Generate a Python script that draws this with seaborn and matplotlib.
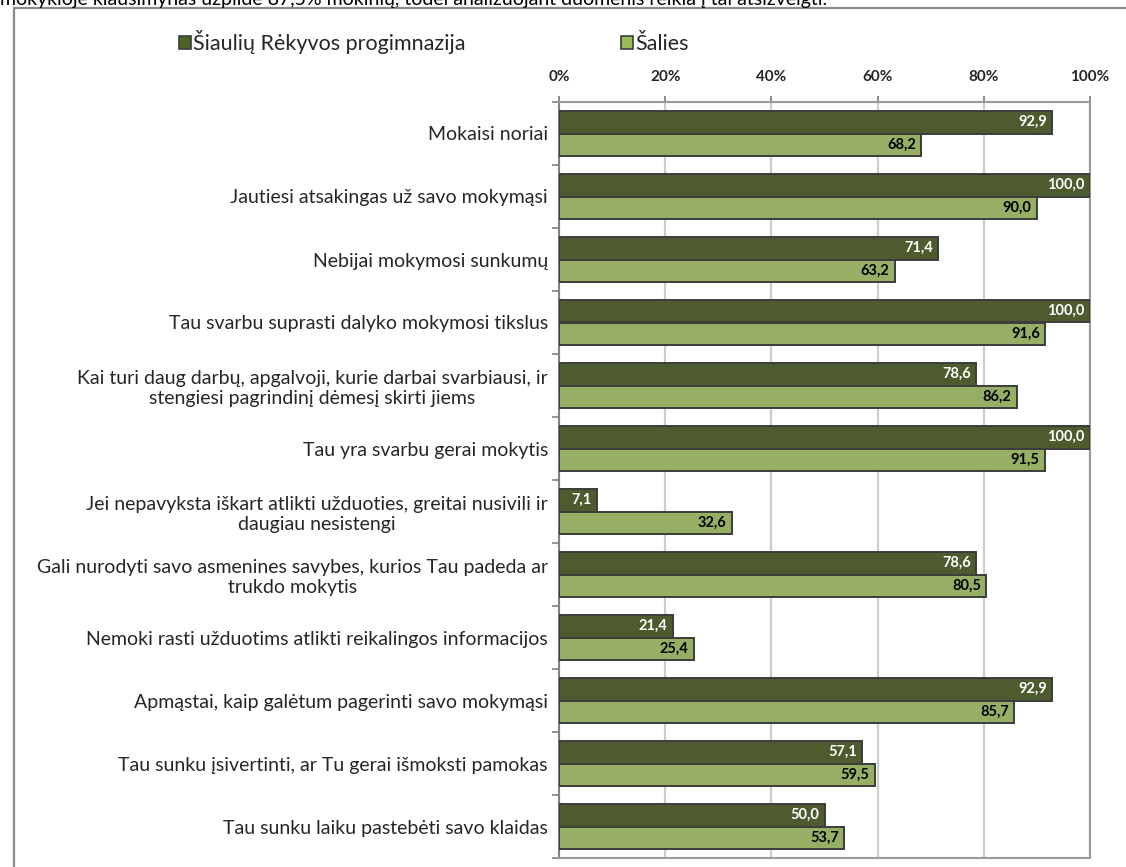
import numpy as np
import pandas as pd
import seaborn as sns
import matplotlib.pyplot as plt
import matplotlib.ticker as ticker
from matplotlib.patches import Rectangle

DARK_GREEN = "#4F6228"
LIGHT_GREEN = "#9BBB59"
EDGE = "#3C3C3C"

questions = [
    "Mokaisi noriai",
    "Jautiesi atsakingas už savo mokymąsi",
    "Nebijai mokymosi sunkumų",
    "Tau svarbu suprasti dalyko mokymosi tikslus",
    "Kai turi daug darbų, apgalvoji, kurie darbai svarbiausi, ir\nstengiesi pagrindinį dėmesį skirti jiems",
    "Tau yra svarbu gerai mokytis",
    "Jei nepavyksta iškart atlikti užduoties, greitai nusivili ir\ndaugiau nesistengi",
    "Gali nurodyti savo asmenines savybes, kurios Tau padeda ar\ntrukdo mokytis",
    "Nemoki rasti užduotims atlikti reikalingos informacijos",
    "Apmąstai, kaip galėtum pagerinti savo mokymąsi",
    "Tau sunku įsivertinti, ar Tu gerai išmoksti pamokas",
    "Tau sunku laiku pastebėti savo klaidas",
]
school_name = "Šiaulių Rėkyvos progimnazija"
country_name = "Šalies"
school_vals = [92.9, 100.0, 71.4, 100.0, 78.6, 100.0, 7.1, 78.6, 21.4, 92.9, 57.1, 50.0]
country_vals = [68.2, 90.0, 63.2, 91.6, 86.2, 91.5, 32.6, 80.5, 25.4, 85.7, 59.5, 53.7]
x_ticks = [0, 20, 40, 60, 80, 100]

top_note = "mokykloje klausimynas užpildė 87,5% mokinių, todėl analizuojant duomenis reikia į tai atsižvelgti."

df = pd.DataFrame({
    "question": questions * 2,
    "group": [school_name] * len(questions) + [country_name] * len(questions),
    "value": school_vals + country_vals,
})

sns.set_theme(style="white")
plt.rcParams['font.family'] = ['Lato', 'DejaVu Sans']

fig = plt.figure(figsize=(11.26, 8.67), dpi=100)
ax = fig.add_axes([559 / 1126, 1 - 858 / 867, 531 / 1126, 756 / 867])

sns.barplot(data=df, x="value", y="question", hue="group", orient="h",
            palette=[DARK_GREEN, LIGHT_GREEN], width=0.72,
            edgecolor=EDGE, linewidth=1.4, ax=ax, legend=False, zorder=3)

ax.set_xlim(0, 100)
ax.set_ylim(len(questions) - 0.5, -0.5)
ax.xaxis.set_major_locator(ticker.FixedLocator(x_ticks))
ax.xaxis.set_major_formatter(ticker.FuncFormatter(lambda v, p: "{:.0f}%".format(v)))
ax.xaxis.tick_top()
ax.tick_params(axis='x', which='major', length=4, color="#808080", labelsize=11,
               pad=9, top=True, bottom=False)
for lab in ax.get_xticklabels():
    lab.set_fontweight('bold')
ax.grid(axis='x', color="#CCCCCC", lw=1.6, zorder=0)
ax.set_axisbelow(True)

ax.set_xlabel("")
ax.set_ylabel("")
ax.tick_params(axis='y', which='major', length=0, labelsize=14, pad=8)
for lab in ax.get_yticklabels():
    lab.set_multialignment('center')
ax.yaxis.set_minor_locator(ticker.FixedLocator(np.arange(-0.5, len(questions), 1.0)))
ax.tick_params(axis='y', which='minor', length=5, color="#808080", width=1.2, left=True)

for side in ['top', 'right', 'bottom']:
    ax.spines[side].set_color("#9A9A9A")
    ax.spines[side].set_linewidth(1.5)
ax.spines['left'].set_color("#808080")
ax.spines['left'].set_linewidth(1.5)

# value labels inside bar ends
for cont, tcolor in zip(ax.containers, ["white", "black"]):
    for patch in cont.patches:
        w = patch.get_width()
        yc = patch.get_y() + patch.get_height() / 2
        ax.text(w - 1.0, yc, "{:.1f}".format(w).replace(".", ","), ha='right', va='center',
                fontsize=10.5, fontweight='bold', color=tcolor, zorder=5)

# legend
handles = [Rectangle((0, 0), 1, 1, facecolor=DARK_GREEN, edgecolor=EDGE, lw=1.2),
           Rectangle((0, 0), 1, 1, facecolor=LIGHT_GREEN, edgecolor=EDGE, lw=1.2)]
fig.legend(handles, [school_name, country_name], loc='center left',
           bbox_to_anchor=(160 / 1126, 1 - 42 / 867), ncol=2, frameon=False,
           fontsize=15.5, handlelength=0.55, handleheight=0.55, handletextpad=0.1,
           columnspacing=7.2)

# chart border and clipped note text at the very top
fig.patches.append(Rectangle((14 / 1126, -0.02), 1.1, 1 - 8 / 867 + 0.02,
                             transform=fig.transFigure, fill=False,
                             edgecolor="#8C8C8C", lw=1.6))
fig.text(0.0, 1.0 + 1 / 867, top_note, ha='left', va='center', fontsize=14, color="black")

fig.savefig("out.png", dpi=100)
